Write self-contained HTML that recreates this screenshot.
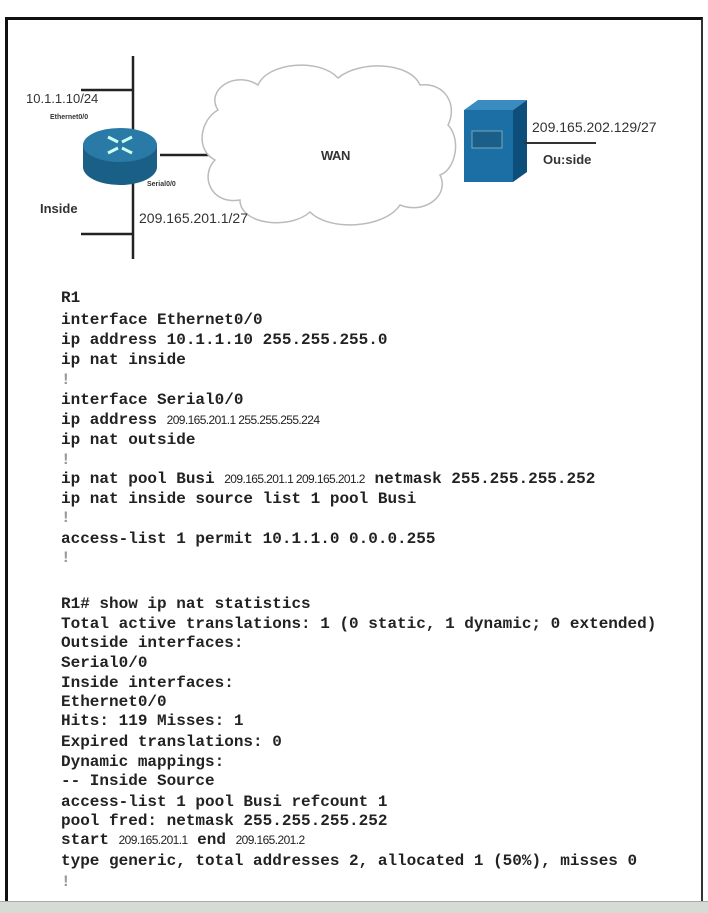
<!DOCTYPE html>
<html><head><meta charset="utf-8"><style>
html,body{margin:0;padding:0;background:#fff;}
body{width:708px;height:912px;position:relative;overflow:hidden;}
.frame{position:absolute;left:5px;top:17px;width:698px;height:895px;border-left:3px solid #111;border-top:3px solid #111;border-right:2px solid #333;box-sizing:border-box;}
.bot{position:absolute;left:0;top:901px;width:708px;height:11px;background:#d6dbd6;border-top:1px solid #aaa;}
.l{position:absolute;left:61px;font:bold 16px/20px "Liberation Mono",monospace;color:#222;white-space:pre;}
.s{font:12px "Liberation Sans",sans-serif;letter-spacing:-0.6px;}
.t{position:absolute;font-family:"Liberation Sans",sans-serif;color:#333;white-space:nowrap;}
</style></head><body>
<div class="frame"></div>
<svg width="708" height="280" style="position:absolute;left:0;top:0">
<line x1="133" y1="56" x2="133" y2="259" stroke="#222" stroke-width="2.5"/>
<line x1="81" y1="90" x2="133" y2="90" stroke="#222" stroke-width="2.5"/>
<line x1="81" y1="234" x2="133" y2="234" stroke="#222" stroke-width="2.5"/>
<line x1="160" y1="155" x2="210" y2="155" stroke="#222" stroke-width="2.5"/>
<path d="M218,110 C205,90 235,70 258,85 C268,62 320,58 338,78 C360,60 410,62 420,85 C445,82 458,105 448,125 C462,140 455,170 440,175 C450,195 425,215 400,205 C385,228 330,232 310,212 C290,230 240,225 240,200 C210,205 200,175 215,160 C195,150 200,120 218,110 Z" fill="#fff" stroke="#bbb" stroke-width="1.5"/>
<ellipse cx="120" cy="167" rx="37" ry="18" fill="#1a5f86"/>
<rect x="83" y="145" width="74" height="22" fill="#1a5f86"/>
<ellipse cx="120" cy="145" rx="37" ry="17" fill="#2a7aa8"/>
<path d="M108,137 l10,5 M132,137 l-10,5 M108,153 l10,-5 M132,153 l-10,-5" stroke="#cfe" stroke-width="3"/>
<polygon points="464,110 478,100 527,100 513,110" fill="#3a8cc0"/>
<polygon points="513,110 527,100 527,172 513,182" fill="#0d4f7a"/>
<rect x="464" y="110" width="49" height="72" fill="#1c6fa5"/>
<rect x="472" y="131" width="30" height="17" fill="#1a5f8a" stroke="#7ab" stroke-width="1"/>
<line x1="524" y1="143" x2="596" y2="143" stroke="#333" stroke-width="2"/>
</svg>
<div class="t" style="left:26px;top:91px;font-size:13px">10.1.1.10/24</div>
<div class="t" style="left:50px;top:114px;font-size:7px;font-weight:bold">Ethernet0/0</div>
<div class="t" style="left:147px;top:181px;font-size:7px;font-weight:bold">Serial0/0</div>
<div class="t" style="left:40px;top:201px;font-size:13px;font-weight:bold">Inside</div>
<div class="t" style="left:139px;top:210px;font-size:14px">209.165.201.1/27</div>
<div class="t" style="left:321px;top:148px;font-size:13px;font-weight:bold;letter-spacing:-0.5px">WAN</div>
<div class="t" style="left:532px;top:119px;font-size:14px">209.165.202.129/27</div>
<div class="t" style="left:543px;top:152px;font-size:13px;font-weight:bold">Ou:side</div>

<div class="l" style="top:288px">R1</div>
<div class="l" style="top:310px">interface Ethernet0/0</div>
<div class="l" style="top:330px">ip address 10.1.1.10 255.255.255.0</div>
<div class="l" style="top:350px">ip nat inside</div>
<div class="l" style="top:370px;color:#999">!</div>
<div class="l" style="top:390px">interface Serial0/0</div>
<div class="l" style="top:410px">ip address <span class="s">209.165.201.1 255.255.255.224</span></div>
<div class="l" style="top:430px">ip nat outside</div>
<div class="l" style="top:450px;color:#999">!</div>
<div class="l" style="top:469px">ip nat pool Busi <span class="s">209.165.201.1 209.165.201.2</span> netmask 255.255.255.252</div>
<div class="l" style="top:489px">ip nat inside source list 1 pool Busi</div>
<div class="l" style="top:508px;color:#999">!</div>
<div class="l" style="top:529px">access-list 1 permit 10.1.1.0 0.0.0.255</div>
<div class="l" style="top:548px;color:#999">!</div>
<div class="l" style="top:594px">R1# show ip nat statistics</div>
<div class="l" style="top:614px">Total active translations: 1 (0 static, 1 dynamic; 0 extended)</div>
<div class="l" style="top:633px">Outside interfaces:</div>
<div class="l" style="top:653px">Serial0/0</div>
<div class="l" style="top:673px">Inside interfaces:</div>
<div class="l" style="top:692px">Ethernet0/0</div>
<div class="l" style="top:711px">Hits: 119 Misses: 1</div>
<div class="l" style="top:732px">Expired translations: 0</div>
<div class="l" style="top:752px">Dynamic mappings:</div>
<div class="l" style="top:771px">-- Inside Source</div>
<div class="l" style="top:792px">access-list 1 pool Busi refcount 1</div>
<div class="l" style="top:811px">pool fred: netmask 255.255.255.252</div>
<div class="l" style="top:830px">start <span class="s">209.165.201.1</span> end <span class="s">209.165.201.2</span></div>
<div class="l" style="top:851px">type generic, total addresses 2, allocated 1 (50%), misses 0</div>
<div class="l" style="top:872px;color:#999">!</div>
<div class="bot"></div>
</body></html>
